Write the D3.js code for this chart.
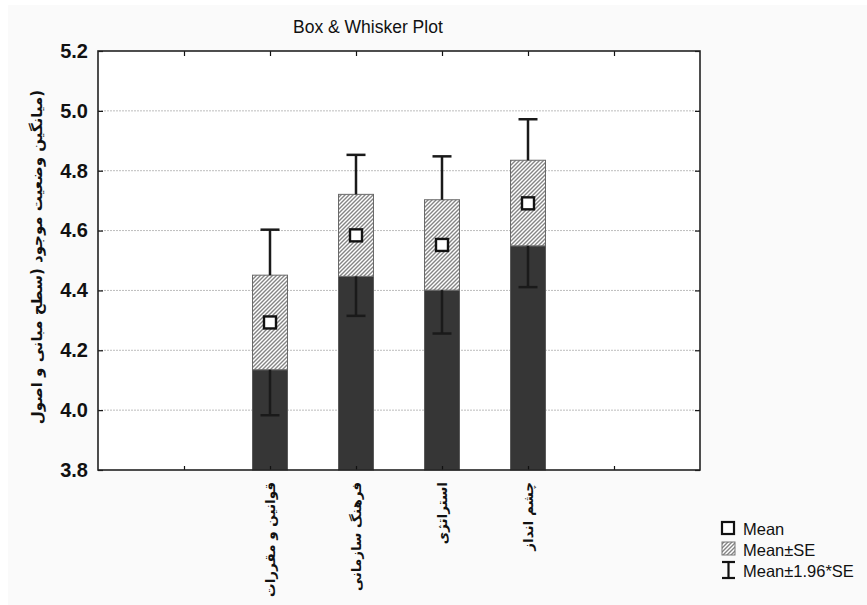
<!DOCTYPE html>
<html>
<head>
<meta charset="utf-8">
<script src="https://cdn.jsdelivr.net/npm/d3@7/dist/d3.min.js"></script>
<style>
  html, body { margin: 0; padding: 0; background: #ffffff; }
  svg { display: block; }
</style>
</head>
<body>
<svg id="chart" width="867" height="605"></svg>
<script>
// ---- data ----
const categories = ["قوانین و مقررات", "فرهنگ سازمانی", "استراتژی", "چشم انداز"];
const means   = [4.293, 4.584, 4.552, 4.691];
const seLow   = [4.135, 4.447, 4.401, 4.549];
const seHigh  = [4.451, 4.721, 4.703, 4.835];
const ciLow   = [3.983, 4.315, 4.256, 4.411];
const ciHigh  = [4.603, 4.853, 4.848, 4.972];
const yTicks  = [3.8, 4.0, 4.2, 4.4, 4.6, 4.8, 5.0, 5.2];
const slotKeys = ["_a", "_b", ...categories, "_c", "_d"];
const titleText = "Box & Whisker Plot";
const yLabel = "(میانگین وضعیت موجود (سطح مبانی و اصول";
const legendLabels = ["Mean", "Mean±SE", "Mean±1.96*SE"];

const svg = d3.select("#chart");
const W = 867, H = 605;
const m = { left: 98, right: 700, top: 51, bottom: 470 };

// page background
svg.append("rect").attr("x", 8).attr("y", 5).attr("width", W - 8).attr("height", H - 5).attr("fill", "#fafafa");
svg.append("rect").attr("x", m.left).attr("y", m.top).attr("width", m.right - m.left).attr("height", m.bottom - m.top).attr("fill", "#ffffff");

const y = d3.scaleLinear().domain([3.8, 5.2]).range([m.bottom, m.top]);
const x = d3.scalePoint().domain(slotKeys).range([m.left, m.right]).padding(0);

// hatch pattern
const defs = svg.append("defs");
const pat = defs.append("pattern").attr("id", "hatch").attr("patternUnits", "userSpaceOnUse")
  .attr("width", 4).attr("height", 4);
pat.append("rect").attr("width", 4).attr("height", 4).attr("fill", "#ffffff");
pat.append("path").attr("d", "M-1,1 l2,-2 M0,4 l4,-4 M3,5 l2,-2")
  .attr("stroke", "#858585").attr("stroke-width", 1.4);

// grid lines
svg.append("g").selectAll("line").data(yTicks.filter(t => t > 3.8 && t < 5.2)).join("line")
  .attr("x1", m.left).attr("x2", m.right)
  .attr("y1", d => y(d)).attr("y2", d => y(d))
  .attr("stroke", "#bdbdbd").attr("stroke-width", 1).attr("stroke-dasharray", "2,1");

// bars
const bw = 35;
const data = categories.map((c, i) => ({ c, mean: means[i], lo: seLow[i], hi: seHigh[i], cl: ciLow[i], ch: ciHigh[i] }));
const g = svg.append("g");
g.selectAll("rect.dark").data(data).join("rect").attr("class", "dark")
  .attr("x", d => x(d.c) - bw / 2).attr("width", bw)
  .attr("y", d => y(d.lo)).attr("height", d => y(3.8) - y(d.lo))
  .attr("fill", "#363636").attr("stroke", "#5a5a5a").attr("stroke-width", 1);
g.selectAll("rect.se").data(data).join("rect").attr("class", "se")
  .attr("x", d => x(d.c) - bw / 2).attr("width", bw)
  .attr("y", d => y(d.hi)).attr("height", d => y(d.lo) - y(d.hi))
  .attr("fill", "url(#hatch)").attr("stroke", "#6a6a6a").attr("stroke-width", 1);

// whiskers
const capW = 19;
g.selectAll("line.wu").data(data).join("line")
  .attr("x1", d => x(d.c)).attr("x2", d => x(d.c))
  .attr("y1", d => y(d.hi)).attr("y2", d => y(d.ch))
  .attr("stroke", "#1a1a1a").attr("stroke-width", 2.5);
g.selectAll("line.wl").data(data).join("line")
  .attr("x1", d => x(d.c)).attr("x2", d => x(d.c))
  .attr("y1", d => y(d.lo)).attr("y2", d => y(d.cl))
  .attr("stroke", "#1a1a1a").attr("stroke-width", 2.5);
g.selectAll("line.cu").data(data).join("line")
  .attr("x1", d => x(d.c) - capW / 2).attr("x2", d => x(d.c) + capW / 2)
  .attr("y1", d => y(d.ch)).attr("y2", d => y(d.ch))
  .attr("stroke", "#1a1a1a").attr("stroke-width", 2.5);
g.selectAll("line.cl").data(data).join("line")
  .attr("x1", d => x(d.c) - capW / 2).attr("x2", d => x(d.c) + capW / 2)
  .attr("y1", d => y(d.cl)).attr("y2", d => y(d.cl))
  .attr("stroke", "#1a1a1a").attr("stroke-width", 2.5);

// mean markers
const ms = 12;
g.selectAll("rect.mean").data(data).join("rect")
  .attr("x", d => x(d.c) - ms / 2).attr("y", d => y(d.mean) - ms / 2)
  .attr("width", ms).attr("height", ms)
  .attr("fill", "#ffffff").attr("stroke", "#111111").attr("stroke-width", 2.4);

// axes
const innerSlots = slotKeys.slice(1, 7);
const axL = svg.append("g").attr("transform", `translate(${m.left},0)`)
  .call(d3.axisLeft(y).tickValues(yTicks).tickFormat(d3.format(".1f")).tickSize(-5).tickPadding(10));
axL.selectAll("text").attr("font-family", "Liberation Sans, Arial, sans-serif")
  .attr("font-size", 20).attr("font-weight", "bold").attr("fill", "#111");
const axR = svg.append("g").attr("transform", `translate(${m.right},0)`)
  .call(d3.axisRight(y).tickValues(yTicks).tickFormat("").tickSize(-5));
const axT = svg.append("g").attr("transform", `translate(0,${m.top})`)
  .call(d3.axisTop(x).tickValues(innerSlots).tickFormat("").tickSize(-5));
const axB = svg.append("g").attr("transform", `translate(0,${m.bottom})`)
  .call(d3.axisBottom(x).tickValues(innerSlots).tickFormat("").tickSize(-4));
[axL, axR, axT, axB].forEach(a => {
  a.select(".domain").remove();
  a.selectAll("line").attr("stroke", "#111").attr("stroke-width", 1.2);
});

// frame
svg.append("rect").attr("x", m.left).attr("y", m.top)
  .attr("width", m.right - m.left).attr("height", m.bottom - m.top)
  .attr("fill", "none").attr("stroke", "#222").attr("stroke-width", 1.6);

// x category labels (rotated)
svg.append("g").selectAll("text").data(categories).join("text")
  .attr("transform", d => `translate(${x(d) + 5},${m.bottom + 12}) rotate(-90)`)
  .attr("text-anchor", "end")
  .attr("font-family", "DejaVu Sans, Liberation Sans, sans-serif")
  .attr("font-size", 13.5).attr("font-weight", "bold").attr("fill", "#111")
  .text(d => d);

// title
svg.append("text").attr("x", 293).attr("y", 33).attr("text-anchor", "start")
  .attr("font-family", "Liberation Sans, Arial, sans-serif").attr("font-size", 17.5).attr("fill", "#111")
  .text(titleText);

// y label
svg.append("text").attr("transform", "translate(42,257) rotate(-90)")
  .attr("text-anchor", "middle").attr("direction", "rtl")
  .attr("font-family", "DejaVu Sans, Liberation Sans, sans-serif")
  .attr("font-size", 15).attr("font-weight", "bold").attr("fill", "#111")
  .text(yLabel);

// legend
const lg = svg.append("g").attr("transform", "translate(721,521)");
lg.append("rect").attr("x", 1).attr("y", 1).attr("width", 12).attr("height", 12)
  .attr("fill", "#fff").attr("stroke", "#111").attr("stroke-width", 2.2);
lg.append("rect").attr("x", 1).attr("y", 21).attr("width", 13).attr("height", 13)
  .attr("fill", "url(#hatch)").attr("stroke", "#777").attr("stroke-width", 1);
lg.append("line").attr("x1", 7.5).attr("x2", 7.5).attr("y1", 41).attr("y2", 57).attr("stroke", "#111").attr("stroke-width", 2.2);
lg.append("line").attr("x1", 1).attr("x2", 14).attr("y1", 41).attr("y2", 41).attr("stroke", "#111").attr("stroke-width", 2.2);
lg.append("line").attr("x1", 1).attr("x2", 14).attr("y1", 57).attr("y2", 57).attr("stroke", "#111").attr("stroke-width", 2.2);
lg.selectAll("text").data(legendLabels).join("text")
  .attr("x", 22).attr("y", (d, i) => 13.5 + i * 21)
  .attr("font-family", "Liberation Sans, Arial, sans-serif").attr("font-size", 16.5).attr("fill", "#111")
  .text(d => d);
</script>
</body>
</html>
